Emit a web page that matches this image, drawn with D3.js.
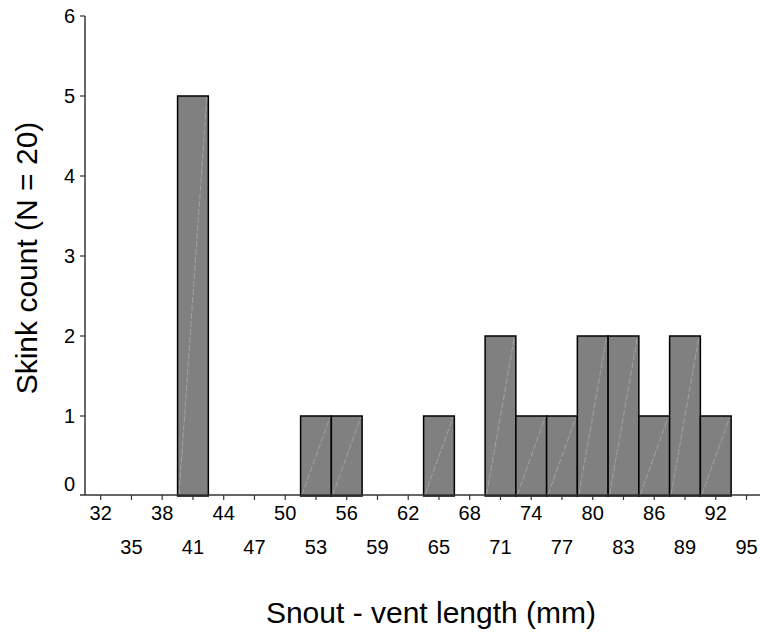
<!DOCTYPE html>
<html>
<head>
<meta charset="utf-8">
<script src="https://cdn.jsdelivr.net/npm/d3@7"></script>
<style>
  body { margin: 0; background: #fff; }
  text { font-family: "Liberation Sans", Arial, sans-serif; fill: #000; }
</style>
</head>
<body>
<div id="root"></div>
<script>
// bin centres (mm), bin width 3
const binCenters = [41, 53, 56, 65, 71, 74, 77, 80, 83, 86, 89, 92];
const counts     = [5, 1, 1, 1, 2, 1, 1, 2, 2, 1, 2, 1];
const binWidth = 3;

const upperTicks = [32, 38, 44, 50, 56, 62, 68, 74, 80, 86, 92];
const lowerTicks = [35, 41, 47, 53, 59, 65, 71, 77, 83, 89, 95];
const yTicks = [0, 1, 2, 3, 4, 5, 6];

const svg = d3.select("#root")
  .append("svg")
  .attr("width", 760)
  .attr("height", 633);

const x = d3.scaleLinear().domain([32, 95]).range([100.7, 746.5]);
const y = d3.scaleLinear().domain([0, 6]).range([496, 16]);
const axisColor = "#333";

// bars
const bars = svg.append("g");
binCenters.forEach(function(c, i) {
  const x0 = x(c - binWidth / 2), x1 = x(c + binWidth / 2);
  const y0 = y(0), y1 = y(counts[i]);
  bars.append("rect")
    .attr("x", x0)
    .attr("y", y1)
    .attr("width", x1 - x0)
    .attr("height", y0 - y1)
    .attr("fill", "#808080")
    .attr("stroke", "#000")
    .attr("stroke-width", 1.5);
  bars.append("line")
    .attr("x1", x0 + 1.5).attr("y1", y0 - 1.5)
    .attr("x2", x1 - 1.5).attr("y2", y1 + 1.5)
    .attr("stroke", "#aaa")
    .attr("stroke-width", 0.8)
    .attr("stroke-dasharray", "6,2");
});

// x axis
const gx = svg.append("g");
gx.append("line")
  .attr("x1", 80).attr("x2", 760)
  .attr("y1", 495).attr("y2", 495)
  .attr("stroke", axisColor).attr("stroke-width", 1.5);

const allX = upperTicks.concat(lowerTicks);
gx.selectAll(".xt")
  .data(allX)
  .enter().append("line")
    .attr("x1", function(d) { return x(d); })
    .attr("x2", function(d) { return x(d); })
    .attr("y1", 495).attr("y2", 500)
    .attr("stroke", axisColor).attr("stroke-width", 1.2);

gx.selectAll(".xu")
  .data(upperTicks)
  .enter().append("text")
    .attr("x", function(d) { return x(d); })
    .attr("y", 520)
    .attr("text-anchor", "middle")
    .style("font-size", "20px")
    .text(function(d) { return d; });

gx.selectAll(".xl")
  .data(lowerTicks)
  .enter().append("text")
    .attr("x", function(d) { return x(d); })
    .attr("y", 554)
    .attr("text-anchor", "middle")
    .style("font-size", "20px")
    .text(function(d) { return d; });

// y axis
const gy = svg.append("g");
gy.append("line")
  .attr("x1", 85).attr("x2", 85)
  .attr("y1", y(6)).attr("y2", 495)
  .attr("stroke", axisColor).attr("stroke-width", 1.5);

gy.selectAll(".yt")
  .data(yTicks.slice(1))
  .enter().append("line")
    .attr("x1", 80).attr("x2", 85)
    .attr("y1", function(d) { return y(d); })
    .attr("y2", function(d) { return y(d); })
    .attr("stroke", axisColor).attr("stroke-width", 1.2);

gy.selectAll(".yl")
  .data(yTicks)
  .enter().append("text")
    .attr("x", 75)
    .attr("y", function(d) { return d === 0 ? y(d) - 12 : y(d); })
    .attr("dy", "0.35em")
    .attr("text-anchor", "end")
    .style("font-size", "20px")
    .text(function(d) { return d; });

// titles
svg.append("text")
  .attr("x", 431)
  .attr("y", 623)
  .attr("text-anchor", "middle")
  .style("font-size", "30px")
  .text("Snout - vent length (mm)");

svg.append("text")
  .attr("transform", "translate(37,258) rotate(-90)")
  .attr("text-anchor", "middle")
  .style("font-size", "30px")
  .text("Skink count (N = 20)");
</script>
</body>
</html>
